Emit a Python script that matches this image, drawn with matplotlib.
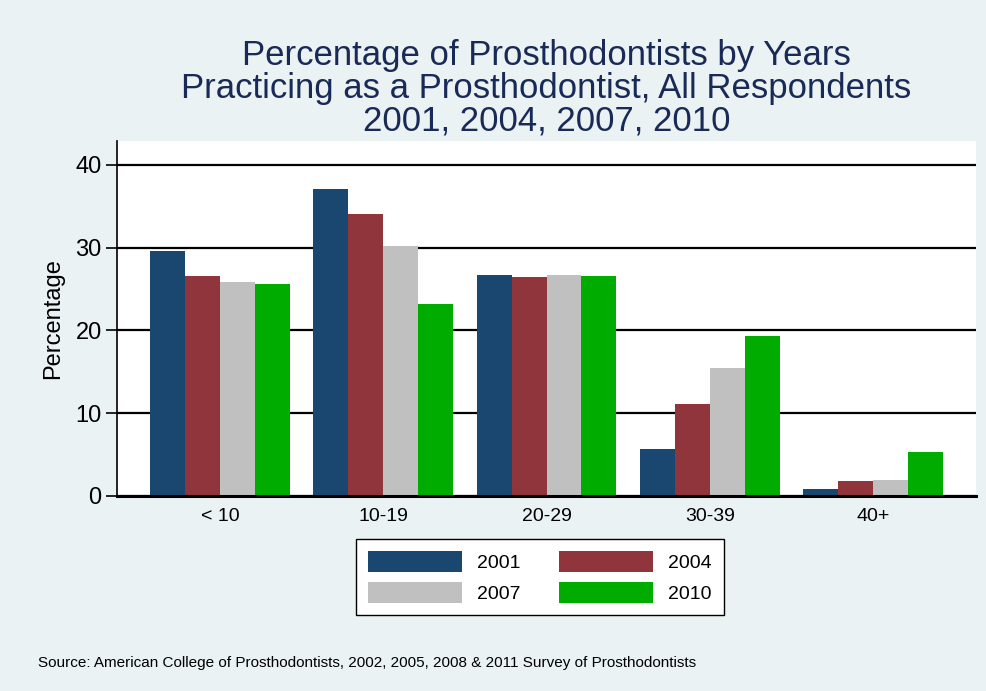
import numpy as np
import matplotlib
matplotlib.use("Agg")
import matplotlib.pyplot as plt

plt.rcParams['font.family'] = ['Liberation Sans', 'DejaVu Sans']

# данные
categories = ['< 10', '10-19', '20-29', '30-39', '40+']
years = ['2001', '2004', '2007', '2010']
v2001 = [29.6, 37.1, 26.75, 5.65, 0.9]
v2004 = [26.55, 34.1, 26.45, 11.15, 1.8]
v2007 = [25.85, 30.15, 26.65, 15.45, 1.95]
v2010 = [25.65, 23.2, 26.55, 19.35, 5.3]
series = [v2001, v2004, v2007, v2010]
colors = ['#1a476f', '#90353b', '#c0c0c0', '#00ac00']

bg = '#eaf2f3'
fig = plt.figure(figsize=(9.87, 6.91), dpi=100, facecolor=bg)
ax = fig.add_axes([0.1185, 0.2822, 0.8704, 0.5138])
ax.set_facecolor('white')

x = np.arange(len(categories))
w = 0.2143
bars = []
for i, (vals, c) in enumerate(zip(series, colors)):
    b = ax.bar(x + (i - 1.5) * w, vals, w, color=c, edgecolor='none',
               label=years[i], zorder=3)
    bars.append(b)

ax.set_xlim(-0.631, 4.631)
ax.set_ylim(0, 42.9)
ax.set_yticks([0, 10, 20, 30, 40])
ax.yaxis.grid(True, color='black', linewidth=1.6, zorder=1)
ax.set_axisbelow(True)
ax.tick_params(axis='y', labelsize=17, length=8, width=1.2, pad=3)
ax.set_xticks(x)
ax.set_xticklabels(categories, fontsize=14)
ax.tick_params(axis='x', length=0, pad=9)
for s in ['top', 'right']:
    ax.spines[s].set_visible(False)
ax.spines['left'].set_linewidth(1.2)
ax.spines['bottom'].set_linewidth(2.2)
ax.spines['bottom'].set_zorder(4)
ax.set_ylabel('Percentage', fontsize=17, labelpad=8)

fig.text(0.5535, 0.872,
         'Percentage of Prosthodontists by Years\nPracticing as a Prosthodontist, All Respondents\n2001, 2004, 2007, 2010',
         ha='center', va='center', fontsize=25, color='#1a2a57', linespacing=1.0)

# порядок по строкам: 2001 2004 / 2007 2010
order = [0, 2, 1, 3]
leg = fig.legend(handles=[bars[i] for i in order], labels=[years[i] for i in order],
                 ncol=2, loc='center', bbox_to_anchor=(0.547, 0.165), fontsize=14,
                 handlelength=4.85, handleheight=1.3, handletextpad=0.77,
                 columnspacing=1.96, labelspacing=0.5, borderpad=0.62,
                 fancybox=False, edgecolor='black', facecolor='white',
                 framealpha=1)
leg.get_frame().set_linewidth(1.0)

fig.text(0.0385, 0.040,
         'Source: American College of Prosthodontists, 2002, 2005, 2008 & 2011 Survey of Prosthodontists',
         fontsize=11, ha='left', va='center')

fig.savefig('out.png', dpi=100, facecolor=bg)
